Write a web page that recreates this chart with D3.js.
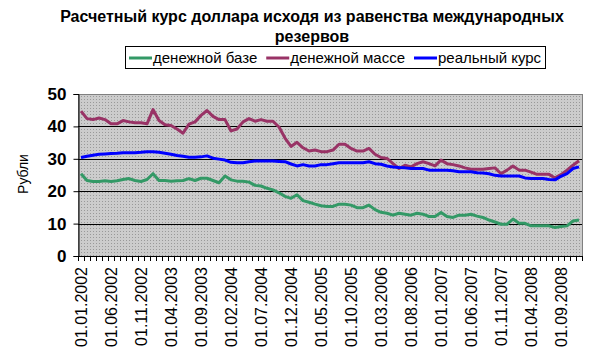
<!DOCTYPE html>
<meta charset="utf-8">
<title>Расчетный курс доллара</title>
<style>
body { margin: 0; background: #fff; }
text { font-family: Arial, "Liberation Sans", sans-serif; }
.line { fill: none; stroke-width: 3px; stroke-linejoin: round; }
</style>
<script src="https://d3js.org/d3.v7.min.js"></script>
<body>
<script>
var width = 589;
var height = 361;

// months 01.2002 .. 12.2008
var months = d3.timeMonths(new Date(2002, 0, 1), new Date(2009, 0, 1));
var fmt = d3.timeFormat("%d.%m.%Y");
var categories = months.map(fmt);

// денежной базе
var baseVals = [25.4,23.3,23.0,23.0,23.2,23.0,23.2,23.6,23.9,23.3,23.0,23.6,25.4,23.3,23.3,23.1,23.2,
  23.3,23.9,23.3,24.0,24.0,23.3,22.6,24.7,23.5,23.1,23.1,22.8,21.8,21.6,20.9,20.4,19.5,
  18.4,17.8,18.9,17.1,16.6,16.0,15.5,15.3,15.3,16.0,16.0,15.7,14.9,14.9,15.7,14.3,13.5,
  13.2,12.6,13.2,12.9,12.6,13.2,12.9,12.2,12.2,13.4,12.2,11.9,12.6,12.6,12.9,12.3,
  11.9,11.1,10.5,9.8,9.8,11.4,10.1,10.1,9.3,9.3,9.3,9.3,8.8,9.1,9.3,10.8,11.1];
// денежной массе
var massVals = [44.7,42.4,42.1,42.6,42.1,40.8,40.8,41.8,41.4,41.1,41.1,40.8,45.2,41.8,40.5,40.3,39.2,
  37.9,40.7,41.4,43.4,44.9,43.1,42.1,42.1,38.6,39.2,41.4,42.4,41.6,42.1,41.6,41.6,39.8,
  36.4,33.8,35.1,33.4,32.4,32.7,32.2,32.2,32.7,34.5,34.5,33.2,32.4,32.4,33.2,31.4,30.4,
  30.1,28.5,27.0,28.0,27.5,28.5,29.1,28.5,27.8,29.6,28.5,28.2,27.8,27.2,26.8,26.8,
  26.8,27.0,27.2,25.4,26.5,27.8,26.5,26.5,25.9,25.2,25.2,25.2,24.1,25.1,26.5,28.0,29.4];
// реальный курс
var realVals = [30.4,30.8,31.1,31.4,31.5,31.6,31.7,31.9,31.9,31.9,32.0,32.2,32.2,32.0,31.7,31.4,31.0,
  30.8,30.5,30.5,30.6,30.9,30.2,29.9,29.6,28.9,28.8,28.8,29.1,29.3,29.3,29.3,29.3,29.2,
  29.1,28.4,27.8,28.2,27.8,27.8,28.2,28.2,28.5,28.8,28.8,28.8,28.8,28.8,29.1,28.5,28.3,
  27.8,27.5,27.3,27.2,27.0,27.0,27.0,26.5,26.5,26.5,26.5,26.3,26.0,26.0,26.0,25.7,
  25.6,25.4,24.9,24.7,24.7,24.7,24.7,24.1,23.9,23.9,23.9,23.6,23.5,24.6,25.4,27.0,27.5];

var seriesNames = ["денежной базе", "денежной массе", "реальный курс"];
var seriesColors = ["#339966", "#993366", "#0000ff"];
var series = [baseVals, massVals, realVals];
var yTicks = [0, 10, 20, 30, 40, 50];

var svg = d3.select("body").append("svg")
    .attr("width", width)
    .attr("height", height);

var plotLeft = 78, plotRight = 582, plotTop = 94, plotBottom = 256;

var x = d3.scaleBand()
    .domain(categories)
    .range([plotLeft, plotRight])
    .padding(0);
var y = d3.scaleLinear()
    .domain([0, 50])
    .range([plotBottom, plotTop]);

// plot background pattern
var defs = svg.append("defs");
var pat = defs.append("pattern")
    .attr("id", "dots")
    .attr("width", 3).attr("height", 3)
    .attr("patternUnits", "userSpaceOnUse");
pat.append("rect").attr("width", 3).attr("height", 3).attr("fill", "#cccccc");
pat.append("rect").attr("width", 1).attr("height", 1).attr("fill", "#999999");

svg.append("rect")
    .attr("x", plotLeft + 0.5).attr("y", plotTop + 0.5)
    .attr("width", plotRight - plotLeft).attr("height", plotBottom - plotTop)
    .attr("fill", "url(#dots)")
    .attr("stroke", "#808080")
    .attr("stroke-width", 1);

// gridlines
svg.append("g").selectAll("line")
    .data(yTicks.filter(function(d) { return d > 0 && d < 50; }))
  .enter().append("line")
    .attr("x1", plotLeft).attr("x2", plotRight)
    .attr("y1", function(d) { return Math.round(y(d)) + 0.5; })
    .attr("y2", function(d) { return Math.round(y(d)) + 0.5; })
    .attr("stroke", "#000");

// y axis
var yAxis = d3.axisLeft(y)
    .tickValues(yTicks)
    .tickSize(5)
    .tickPadding(7);
var gy = svg.append("g")
    .attr("transform", "translate(" + (plotLeft + 0.5) + ",0)")
    .call(yAxis);
gy.select(".domain").attr("stroke", "#000");
gy.selectAll(".tick text")
    .attr("font-size", 17)
    .attr("font-weight", "bold")
    .attr("font-family", "Arial, 'Liberation Sans', sans-serif");

// x axis line and tick marks at category boundaries
svg.append("line")
    .attr("x1", plotLeft).attr("x2", plotRight)
    .attr("y1", plotBottom + 0.5).attr("y2", plotBottom + 0.5)
    .attr("stroke", "#000");
var bounds = categories.map(function(c) { return x(c); }).concat([plotRight]);
svg.append("g").selectAll("line")
    .data(bounds)
  .enter().append("line")
    .attr("x1", function(d) { return Math.round(d) + 0.5; })
    .attr("x2", function(d) { return Math.round(d) + 0.5; })
    .attr("y1", plotBottom).attr("y2", plotBottom + 5)
    .attr("stroke", "#000");

// x labels every 5 months
svg.append("g").selectAll("text")
    .data(categories.filter(function(d, i) { return i % 5 === 0; }))
  .enter().append("text")
    .attr("transform", function(d) {
      return "translate(" + (x(d) + x.bandwidth() / 2) + "," + (plotBottom + 11) + ") rotate(-90)";
    })
    .attr("text-anchor", "end")
    .attr("dy", "0.36em")
    .attr("font-size", 16)
    .text(function(d) { return d; });

// lines
var line = d3.line()
    .x(function(d, i) { return x(categories[i]) + x.bandwidth() / 2; })
    .y(function(d) { return y(d); });
svg.append("g").selectAll("path")
    .data(series)
  .enter().append("path")
    .attr("class", "line")
    .attr("stroke", function(d, i) { return seriesColors[i]; })
    .attr("d", line);

// y title
svg.append("text")
    .attr("transform", "translate(28,174) rotate(-90)")
    .attr("text-anchor", "middle")
    .attr("font-size", 14)
    .text("Рубли");

// title
var title = svg.append("text")
    .attr("text-anchor", "middle")
    .attr("font-size", 16)
    .attr("font-weight", "bold");
title.append("tspan").attr("x", 312).attr("y", 22)
    .text("Расчетный курс доллара исходя из равенства международных");
title.append("tspan").attr("x", 312).attr("y", 42)
    .text("резервов");

// legend
var lg = svg.append("g");
lg.append("rect")
    .attr("x", 125.5).attr("y", 46.5)
    .attr("width", 420).attr("height", 22)
    .attr("fill", "#fff").attr("stroke", "#000");
var lx = 129;
seriesNames.forEach(function(name, i) {
  lg.append("line")
      .attr("x1", lx).attr("x2", lx + 23)
      .attr("y1", 58).attr("y2", 58)
      .attr("stroke", seriesColors[i]).attr("stroke-width", 3);
  var t = lg.append("text")
      .attr("x", lx + 24).attr("y", 63)
      .attr("font-size", 15)
      .text(name);
  lx += 24 + t.node().getComputedTextLength() + 9;
});
</script>
</body>
